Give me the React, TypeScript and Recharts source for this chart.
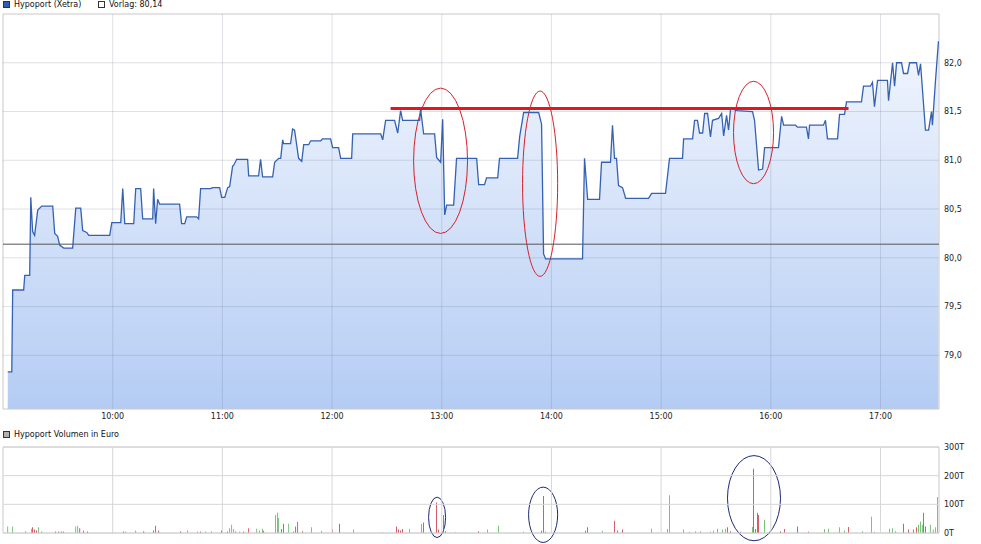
import { ComposedChart, Area, Line, Bar, Cell, XAxis, YAxis, ReferenceLine, ReferenceArea } from "recharts";

// time = minutes since midnight, price in EUR
const priceMin = [
  542.6, 544.8, 545.3, 551.3, 551.9, 554.6, 555.2, 556.2, 557.3, 559.0, 561.2, 567.2, 568.3, 569.9, 571.0, 573.2,
  578.1, 579.8, 582.5, 583.6, 585.8, 586.9, 598.4, 599.5, 604.4, 605.5, 606.6, 611.5, 612.6, 615.3, 616.4, 621.9,
  622.4, 623.5, 624.6, 625.7, 636.6, 637.7, 639.4, 640.5, 645.9, 647.0, 648.1, 653.6, 654.7, 658.5, 659.6, 661.3,
  662.9, 664.0, 665.6, 666.2, 667.8, 673.8, 674.4, 679.8, 680.9, 682.0, 687.5, 688.6, 690.8, 691.9, 693.0, 693.5,
  697.3, 698.4, 699.5, 701.7, 703.4, 704.5, 707.2, 708.3, 713.8, 714.8, 719.2, 720.3, 723.6, 724.7, 730.7, 731.3,
  746.6, 747.7, 749.3, 754.2, 755.9, 757.5, 758.6, 767.9, 768.4, 770.1, 776.1, 777.2, 779.4, 780.5, 781.6, 782.7,
  786.5, 788.1, 799.1, 800.2, 803.4, 804.5, 810.6, 811.6, 821.5, 822.6, 824.8, 833.0, 834.6, 835.7, 836.8, 857.0,
  858.1, 859.8, 866.3, 867.4, 872.3, 873.4, 874.5, 875.6, 876.7, 878.9, 880.6, 893.1, 894.8, 902.4, 904.6, 911.7,
  912.3, 917.2, 918.3, 919.9, 921.0, 922.7, 923.8, 925.4, 927.0, 928.1, 931.4, 933.1, 934.2, 935.8, 936.9, 938.0,
  941.8, 950.0, 951.1, 953.3, 955.5, 956.6, 964.2, 965.9, 967.0, 973.5, 974.6, 979.5, 980.6, 981.2, 988.8, 989.9,
  991.0, 996.5, 997.6, 1000.3, 1001.4, 1009.6, 1010.7, 1014.5, 1015.6, 1016.7, 1018.4, 1023.8, 1024.4, 1026.6, 1027.7, 1028.8,
  1031.5, 1032.6, 1034.8, 1035.9, 1039.7, 1040.8, 1041.9, 1044.6, 1046.3, 1047.9, 1048.4, 1050.1, 1051.7,
];
const priceVal = [
  78.83, 78.83, 79.67, 79.67, 79.82, 79.82, 80.62, 80.27, 80.23, 80.49, 80.53, 80.53, 80.25, 80.22, 80.13, 80.10,
  80.10, 80.51, 80.51, 80.28, 80.26, 80.23, 80.23, 80.36, 80.36, 80.71, 80.35, 80.35, 80.71, 80.71, 80.40, 80.40,
  80.71, 80.35, 80.60, 80.55, 80.55, 80.35, 80.35, 80.42, 80.42, 80.40, 80.71, 80.71, 80.72, 80.72, 80.62, 80.62,
  80.72, 80.73, 80.94, 80.95, 81.01, 81.01, 80.84, 80.84, 81.01, 80.83, 80.83, 80.98, 81.02, 81.02, 81.21, 81.17,
  81.17, 81.32, 81.31, 81.02, 80.99, 81.16, 81.16, 81.20, 81.20, 81.22, 81.22, 81.13, 81.13, 81.02, 81.02, 81.27,
  81.27, 81.21, 81.41, 81.41, 81.28, 81.51, 81.41, 81.41, 81.53, 81.27, 81.27, 81.03, 80.98, 81.42, 80.44, 80.54,
  80.54, 81.02, 81.02, 80.75, 80.75, 80.82, 80.82, 81.02, 81.02, 81.24, 81.49, 81.49, 81.37, 80.04, 79.99, 79.99,
  81.02, 80.60, 80.60, 80.98, 80.98, 81.36, 81.02, 81.02, 80.74, 80.72, 80.61, 80.61, 80.66, 80.66, 81.02, 81.02,
  81.22, 81.22, 81.41, 81.41, 81.28, 81.28, 81.48, 81.48, 81.24, 81.41, 81.43, 81.48, 81.25, 81.46, 81.31, 81.53,
  81.51, 81.50, 81.41, 80.90, 80.91, 81.13, 81.13, 81.45, 81.36, 81.36, 81.34, 81.34, 81.22, 81.36, 81.36, 81.41,
  81.22, 81.22, 81.47, 81.47, 81.60, 81.60, 81.76, 81.76, 81.80, 81.55, 81.82, 81.82, 81.61, 82.00, 81.76, 82.00,
  82.00, 81.89, 81.89, 82.00, 82.00, 81.87, 81.99, 81.31, 81.31, 81.50, 81.36, 81.82, 82.22,
];

// volume in thousand euro (T), u = up tick (green), d = down tick (red)
const volMin = [
  542.6, 545.3, 552.4, 555.7, 556.2, 557.3, 558.4, 559.5, 561.2, 568.8, 570.5, 572.1, 573.2, 579.8, 580.9, 582.0,
  584.1, 586.3, 600.0, 606.0, 607.1, 612.6, 617.0, 622.4, 623.5, 625.2, 637.2, 641.0, 646.5, 648.1, 650.9, 654.1,
  659.6, 662.9, 664.0, 665.1, 666.2, 667.3, 669.5, 671.6, 674.4, 678.8, 680.4, 682.0, 682.6, 689.1, 690.2, 690.8,
  692.4, 693.5, 696.3, 699.0, 700.1, 701.2, 703.9, 708.8, 714.3, 720.3, 724.1, 731.8, 747.7, 755.3, 756.4, 757.5,
  758.6, 762.4, 769.0, 770.1, 777.2, 778.3, 781.0, 782.1, 787.6, 800.2, 805.1, 811.1, 824.8, 834.6, 835.7, 836.8,
  858.7, 859.8, 868.0, 874.5, 876.2, 878.9, 894.8, 903.5, 904.6, 912.3, 915.6, 918.8, 921.6, 927.0, 928.7, 930.9,
  933.6, 935.2, 936.3, 938.0, 943.4, 950.0, 950.6, 951.6, 952.7, 953.3, 956.6, 965.3, 967.5, 974.6, 980.6, 989.4,
  991.6, 997.6, 1000.3, 1002.5, 1010.2, 1015.1, 1016.7, 1024.9, 1026.6, 1028.2, 1032.6, 1035.3, 1038.0, 1039.7, 1040.8, 1041.9,
  1042.9, 1043.5, 1044.6, 1047.3, 1048.9, 1050.1, 1051.2,
];
const volK = [
  23, 23, 6, 15, 20, 12, 9, 20, 6, 5, 5, 5, 5, 23, 25, 17,
  8, 5, 2, 5, 5, 9, 6, 9, 25, 9, 6, 9, 5, 5, 5, 6,
  9, 5, 17, 29, 14, 6, 5, 5, 17, 15, 9, 15, 8, 63, 71, 52,
  14, 32, 32, 6, 23, 38, 6, 20, 8, 12, 32, 12, 3, 23, 12, 9,
  14, 14, 31, 37, 106, 12, 63, 6, 3, 6, 12, 25, 4, 8, 129, 4,
  8, 20, 8, 43, 9, 12, 15, 14, 132, 12, 4, 6, 6, 4, 8, 15,
  12, 15, 20, 6, 4, 21, 224, 14, 71, 63, 46, 6, 14, 23, 4, 14,
  15, 20, 9, 21, 6, 57, 4, 15, 17, 6, 32, 12, 12, 20, 29, 40,
  29, 71, 23, 29, 12, 20, 126,
];
const volDir = [
  "u", "u", "u", "u", "d", "d", "d", "u", "u", "d", "d", "d", "d", "u", "u", "d",
  "d", "d", "d", "d", "u", "u", "d", "d", "d", "d", "d", "u", "u", "d", "u", "u",
  "d", "d", "u", "u", "u", "u", "u", "d", "d", "u", "u", "u", "d", "u", "u", "u",
  "d", "d", "u", "u", "d", "d", "d", "u", "u", "d", "d", "u", "u", "d", "d", "d",
  "d", "u", "u", "d", "d", "d", "d", "d", "u", "d", "u", "u", "u", "d", "d", "d",
  "d", "d", "u", "d", "d", "d", "u", "u", "u", "u", "u", "u", "u", "u", "u", "u",
  "u", "u", "d", "d", "d", "u", "d", "d", "d", "d", "u", "d", "d", "d", "d", "u",
  "u", "u", "u", "d", "u", "u", "u", "u", "u", "u", "d", "d", "d", "d", "u", "u",
  "u", "d", "d", "u", "u", "u", "u",
];

const prevClose = 80.14;
const hourTicks = [600, 660, 720, 780, 840, 900, 960, 1020];
const priceTicks = [79, 79.5, 80, 80.5, 81, 81.5, 82];
const volTicks = [0, 100, 200, 300];
const timeDomain: [number, number] = [540, 1052];
const priceDomain: [number, number] = [78.45, 82.5];

// hand-drawn annotations on the original
const resistance = { from: 752, to: 1002.5, level: 81.53 };
const priceRings = [
  { x1: 764.6, x2: 794.1, y1: 80.25, y2: 81.74 },
  { x1: 824.2, x2: 843.4, y1: 79.81, y2: 81.71 },
  { x1: 939.6, x2: 961.5, y1: 80.76, y2: 81.81 },
];
const volRings = [
  { x1: 772.8, x2: 782.1, y1: -16, y2: 125 },
  { x1: 827.5, x2: 843.4, y1: -33, y2: 160 },
  { x1: 936.3, x2: 965.3, y1: -27, y2: 270 },
];

const priceData = priceMin.map((t, i) => ({ t, p: priceVal[i] }));
const volData = volMin.map((t, i) => ({ t, v: volK[i], dir: volDir[i] }));

const FONT = "DejaVu Sans";
const tickStyle = { fontSize: 8, fill: "#222", fontFamily: FONT };
const gridStroke = "rgba(110,120,140,0.22)";

const fmtTime = (m: number) => `${Math.floor(m / 60)}:${String(m % 60).padStart(2, "0")}`;
const fmtPrice = (v: number) => v.toFixed(1).replace(".", ",");

function ring(color: string) {
  return (p: any) => (
    <ellipse cx={p.x + p.width / 2} cy={p.y + p.height / 2} rx={Math.abs(p.width) / 2} ry={Math.abs(p.height) / 2}
      fill="none" stroke={color} strokeWidth={1} />
  );
}

function LegendItem({ x, y, box, label }: { x: number; y: number; box: string; label: string }) {
  return (
    <div style={{ position: "absolute", left: x, top: y, display: "flex", alignItems: "center", fontSize: 8, color: "#111", whiteSpace: "nowrap" }}>
      <span style={{ width: 5, height: 5, background: box, border: "1px solid #333", marginRight: 4 }} />
      {label}
    </div>
  );
}

export default function App() {
  return (
    <div style={{ position: "absolute", left: 0, top: 0, width: 981, height: 544, background: "#fff", fontFamily: FONT }}>
      <LegendItem x={3} y={0} box="#2f5eb0" label="Hypoport (Xetra)" />
      <LegendItem x={98} y={0} box="#fff" label={`Vorlag: ${prevClose.toFixed(2).replace(".", ",")}`} />

      <div style={{ position: "absolute", left: 0, top: 0 }}>
        <ComposedChart width={981} height={425} data={priceData} margin={{ top: 14, right: 0, bottom: 0, left: 3 }}>
          <defs>
            <linearGradient id="priceFill" x1="0" y1="14" x2="0" y2="409" gradientUnits="userSpaceOnUse">
              <stop offset="0" stopColor="#f6f9fe" />
              <stop offset="1" stopColor="#b4ccf4" />
            </linearGradient>
          </defs>
          <XAxis dataKey="t" type="number" domain={timeDomain} allowDataOverflow ticks={hourTicks} tickFormatter={fmtTime}
            height={16} axisLine={false} tickLine={false} tickSize={2} tickMargin={2} tick={tickStyle} />
          <YAxis orientation="right" type="number" domain={priceDomain} allowDataOverflow ticks={priceTicks} tickFormatter={fmtPrice}
            width={42} axisLine={false} tickLine={false} tickSize={3} tickMargin={2} tick={tickStyle} />
          <Area type="linear" dataKey="p" stroke="none" fill="url(#priceFill)" fillOpacity={1}
            dot={false} activeDot={false} isAnimationActive={false} />
          {hourTicks.map((t) => <ReferenceLine key={`vx${t}`} x={t} stroke={gridStroke} />)}
          {priceTicks.map((v) => <ReferenceLine key={`hy${v}`} y={v} stroke={gridStroke} />)}
          <ReferenceArea x1={timeDomain[0]} x2={timeDomain[1]} y1={priceDomain[0]} y2={priceDomain[1]} fill="none" stroke="#c8c8c8" />
          <ReferenceLine y={prevClose} stroke="#555" strokeWidth={1} />
          <Line type="linear" dataKey="p" stroke="#3461b4" strokeWidth={1.3} dot={false} activeDot={false} isAnimationActive={false} />
          <ReferenceLine segment={[{ x: resistance.from, y: resistance.level }, { x: resistance.to, y: resistance.level }]}
            stroke="#e8141c" strokeWidth={3} ifOverflow="visible" />
          {priceRings.map((r, i) => (
            <ReferenceArea key={`pr${i}`} {...r} ifOverflow="visible" shape={ring("#d8202a")} />
          ))}
        </ComposedChart>
      </div>

      <LegendItem x={3} y={430} box="#b0b0b0" label="Hypoport Volumen in Euro" />

      <div style={{ position: "absolute", left: 0, top: 440 }}>
        <ComposedChart width={981} height={104} data={volData} margin={{ top: 7, right: 0, bottom: 11, left: 3 }}>
          <XAxis dataKey="t" type="number" domain={timeDomain} allowDataOverflow ticks={hourTicks} hide />
          <YAxis orientation="right" type="number" domain={[0, 300]} allowDataOverflow ticks={volTicks} tickFormatter={(v) => `${v}T`}
            width={42} axisLine={false} tickLine={false} tickSize={3} tickMargin={2} tick={tickStyle} />
          {hourTicks.map((t) => <ReferenceLine key={`vv${t}`} x={t} stroke="#d6d6d6" />)}
          {volTicks.map((v) => <ReferenceLine key={`vh${v}`} y={v} stroke="#d6d6d6" />)}
          <ReferenceArea x1={timeDomain[0]} x2={timeDomain[1]} y1={0} y2={300} fill="none" stroke="#c8c8c8" />
          <Bar dataKey="v" barSize={2} isAnimationActive={false}>
            {volData.map((d, i) => <Cell key={i} fill={d.dir === "u" ? "#5cb85c" : "#cc3b48"} />)}
          </Bar>
          {volRings.map((r, i) => (
            <ReferenceArea key={`vr${i}`} {...r} ifOverflow="visible" shape={ring("#1c2a78")} />
          ))}
        </ComposedChart>
      </div>
    </div>
  );
}
